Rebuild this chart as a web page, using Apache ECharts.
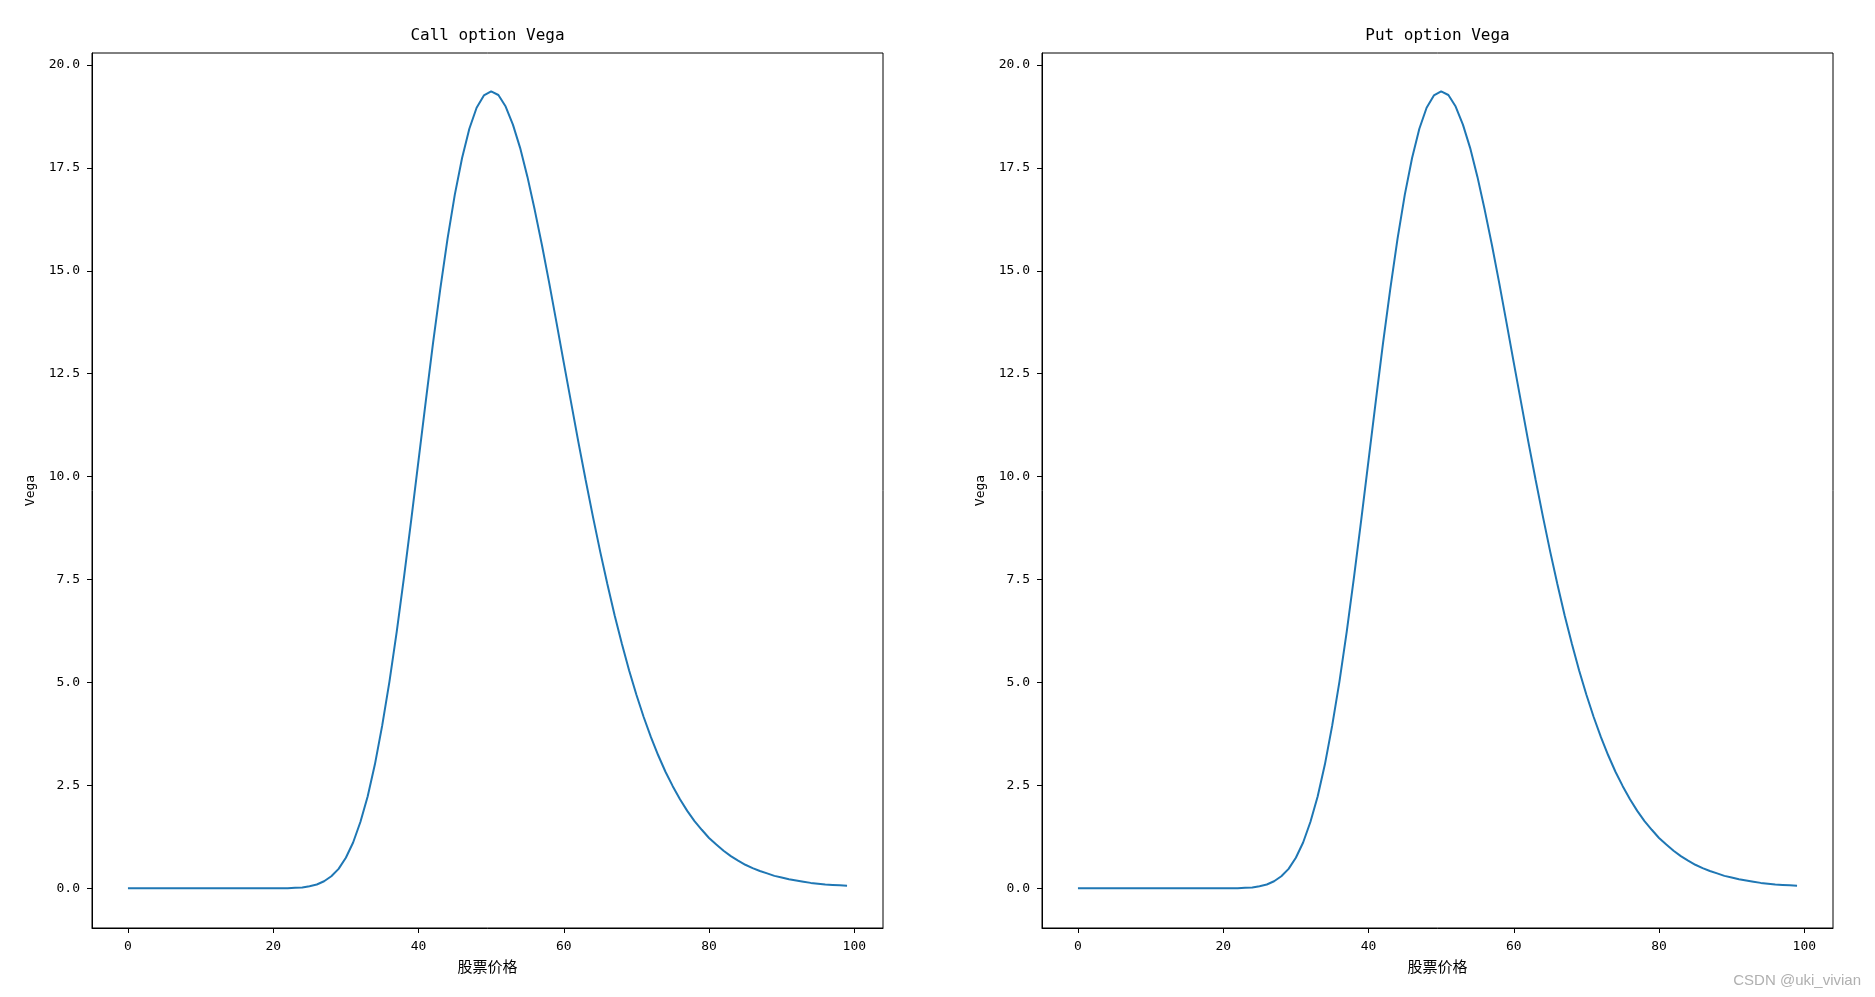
<!DOCTYPE html>
<html>
<head>
<meta charset="utf-8">
<script src="https://cdn.jsdelivr.net/npm/echarts@6/dist/echarts.min.js"></script>
<style>
html,body{margin:0;padding:0;background:#fff;}
#chart{width:1875px;height:997px;}
</style>
</head>
<body>
<div id="chart"></div>
<script>
// Stock price (x) and Vega (y)
const stockPrice = [];
for (let s = 0; s <= 99; s++) stockPrice.push(s);

const callVega = [
  0,0,0,0,0,0,0,0,0,0,
  0,0,0,0,0,0,0,0,0,0,
  0,0.00,0.00,0.01,0.02,0.05,0.09,0.17,0.29,0.47,
  0.74,1.11,1.61,2.23,3.01,3.95,5.02,6.23,7.55,8.95,
  10.39,11.83,13.24,14.56,15.78,16.85,17.74,18.45,18.96,19.26,
  19.36,19.27,18.99,18.55,17.98,17.28,16.48,15.62,14.70,13.74,
  12.77,11.81,10.85,9.93,9.04,8.19,7.39,6.63,5.94,5.29,
  4.70,4.16,3.67,3.23,2.83,2.48,2.16,1.88,1.63,1.42,
  1.22,1.06,0.91,0.78,0.67,0.57,0.49,0.42,0.36,0.30,
  0.26,0.22,0.19,0.16,0.13,0.11,0.09,0.08,0.07,0.06
];
const putVega = callVega.slice();

const xTicks = [0, 20, 40, 60, 80, 100];
const yTicks = [0, 2.5, 5, 7.5, 10, 12.5, 15, 17.5, 20];

const titles = ['Call option Vega', 'Put option Vega'];
const xName = '股票价格';
const yName = 'Vega';

const MONO = "'DejaVu Sans Mono', 'Noto Sans CJK SC', monospace";
const CJK = "'Noto Sans CJK SC', sans-serif";

const grids = [
  {left: 92, top: 53, width: 791, height: 875},
  {left: 1042, top: 53, width: 791, height: 875}
];

function xAxisDef(i) {
  return {
    type: 'value', gridIndex: i, min: -4.95, max: 103.95,
    name: xName, nameLocation: 'middle', nameGap: 31,
    nameTextStyle: {fontFamily: CJK, fontSize: 15, color: '#000'},
    axisLine: {show: true, onZero: false, lineStyle: {color: '#000', width: 1}},
    axisTick: {show: true, inside: false, length: 5, customValues: xTicks, lineStyle: {color: '#000', width: 1}},
    axisLabel: {customValues: xTicks, margin: 12, fontFamily: MONO, fontSize: 13, color: '#000'},
    splitLine: {show: false}
  };
}
function yAxisDef(i) {
  return {
    type: 'value', gridIndex: i, min: -0.966, max: 20.29,
    name: yName, nameLocation: 'middle', nameGap: 55, nameRotate: 90,
    nameTextStyle: {fontFamily: MONO, fontSize: 13, color: '#000'},
    axisLine: {show: true, onZero: false, lineStyle: {color: '#000', width: 1}},
    axisTick: {show: true, inside: false, length: 5, customValues: yTicks, lineStyle: {color: '#000', width: 1}},
    axisLabel: {customValues: yTicks, margin: 12, fontFamily: MONO, fontSize: 13, color: '#000',
      formatter: v => v.toFixed(1)},
    splitLine: {show: false}
  };
}

const chart = echarts.init(document.getElementById('chart'), null, {renderer: 'canvas'});
chart.setOption({
  backgroundColor: '#fff',
  animation: false,
  grid: grids.map(g => Object.assign({show: true, borderColor: '#000', borderWidth: 1, backgroundColor: '#fff'}, g)),
  xAxis: [xAxisDef(0), xAxisDef(1)],
  yAxis: [yAxisDef(0), yAxisDef(1)],
  series: [
    {type: 'line', xAxisIndex: 0, yAxisIndex: 0, data: stockPrice.map((s, k) => [s, callVega[k]]),
     showSymbol: false, lineStyle: {color: '#1f77b4', width: 2}, itemStyle: {color: '#1f77b4'}},
    {type: 'line', xAxisIndex: 1, yAxisIndex: 1, data: stockPrice.map((s, k) => [s, putVega[k]]),
     showSymbol: false, lineStyle: {color: '#1f77b4', width: 2}, itemStyle: {color: '#1f77b4'}}
  ],
  graphic: [
    {type: 'text', x: 92 + 791 / 2, y: 36, style: {text: titles[0], fill: '#000', font: "16px " + MONO, textAlign: 'center', textVerticalAlign: 'middle'}},
    {type: 'text', x: 1042 + 791 / 2, y: 36, style: {text: titles[1], fill: '#000', font: "16px " + MONO, textAlign: 'center', textVerticalAlign: 'middle'}},
    {type: 'text', x: 1861, y: 981, style: {text: 'CSDN @uki_vivian', fill: '#b0b0b0', font: "15px 'Liberation Sans', Arial, sans-serif", textAlign: 'right', textVerticalAlign: 'middle'}}
  ]
});
</script>
</body>
</html>
